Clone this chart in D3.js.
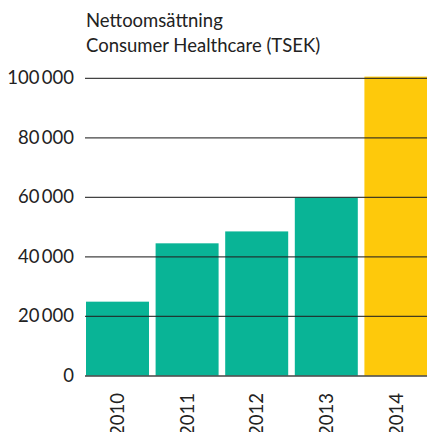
<!DOCTYPE html>
<html>
<head>
<meta charset="utf-8">
<script src="https://cdn.jsdelivr.net/npm/d3@7"></script>
<style>
  body { margin: 0; background: #fff; }
  svg text { font-family: Lato, "Open Sans", sans-serif; fill: #222; }
</style>
</head>
<body>
<svg id="chart" width="427" height="432"></svg>
<script>
// Nettoomsättning Consumer Healthcare (TSEK)
const years = ['2010', '2011', '2012', '2013', '2014'];
const sales = [24800, 44400, 48400, 59800, 100400];
const barColors = ['#09b496', '#09b496', '#09b496', '#09b496', '#fec90b'];
const yTicks = [0, 20000, 40000, 60000, 80000, 100000];
const titleLines = ['Nettoomsättning', 'Consumer Healthcare (TSEK)'];

const svg = d3.select('#chart');

const x = d3.scaleBand()
    .domain(years)
    .range([86, 427.4])
    .paddingInner(0.095)
    .paddingOuter(0);

const y = d3.scaleLinear()
    .domain([0, 100000])
    .range([375.5, 77.8]);

const fmt = v => d3.format(',')(v).replace(/,/g, '\u2009');

// title
svg.append('g')
    .selectAll('text')
    .data(titleLines)
    .enter()
    .append('text')
    .attr('x', 86)
    .attr('y', (d, i) => 26.5 + i * 25)
    .style('font-size', '18.5px')
    .text(d => d);

// bars
svg.append('g')
    .selectAll('rect')
    .data(sales)
    .enter()
    .append('rect')
    .attr('x', (d, i) => x(years[i]))
    .attr('y', d => y(d))
    .attr('width', x.bandwidth())
    .attr('height', d => y(0) - y(d))
    .attr('fill', (d, i) => barColors[i]);

// gridlines on top of bars
const yAxis = d3.axisLeft(y)
    .tickValues(yTicks)
    .tickSize(-(427 - 85))
    .tickPadding(11)
    .tickFormat(fmt);

const gy = svg.append('g')
    .attr('transform', 'translate(85,0)')
    .call(yAxis);

gy.select('.domain').remove();
gy.selectAll('.tick line')
    .attr('stroke', '#222')
    .attr('stroke-opacity', 0.85)
    .attr('stroke-width', 1.3);
gy.selectAll('.tick text')
    .style('font-size', '18.5px')
    .attr('fill', '#222');

// x labels, rotated (cut at the bottom edge as in the original)
const xAxis = d3.axisBottom(x).tickSize(0).tickPadding(0);
const gx = svg.append('g')
    .attr('transform', 'translate(0,375.5)')
    .call(xAxis);
gx.select('.domain').remove();
gx.selectAll('.tick text')
    .attr('transform', 'rotate(-90)')
    .attr('x', -17.5)
    .attr('y', 0)
    .attr('dy', '0.36em')
    .attr('text-anchor', 'end')
    .style('font-size', '18.5px')
    .attr('fill', '#222');
</script>
</body>
</html>
